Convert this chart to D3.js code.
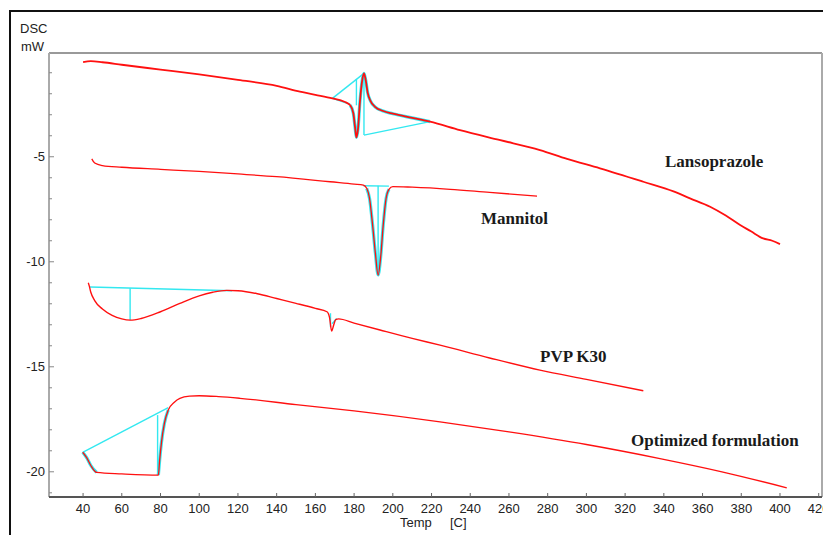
<!DOCTYPE html>
<html>
<head>
<meta charset="utf-8">
<script src="https://cdn.jsdelivr.net/npm/d3@7"></script>
<style>
  body { margin: 0; background: #fff; }
  svg { display: block; }
</style>
</head>
<body>
<svg id="chart"></svg>
<script>
// Canvas size
var W = 823,
    H = 535;

// DSC curves, [temperature C, heat flow mW]
var lansoprazole = [
    [40, -0.50], [44, -0.45], [50, -0.50], [60, -0.62], [80, -0.85], [100, -1.08],
    [120, -1.34], [140, -1.62], [152, -1.90], [160, -2.05], [168.8, -2.22], [175, -2.38],
    [178, -2.55], [179.6, -2.93], [180.5, -3.6], [181.2, -4.08], [182, -3.7], [183, -2.4],
    [184.3, -1.3], [185.1, -1.03], [186, -1.35], [187, -1.95], [188.5, -2.35], [190.8, -2.62],
    [195, -2.82], [200, -2.95], [210, -3.15], [219.2, -3.33], [234.7, -3.73], [255, -4.2],
    [276, -4.68], [290, -5.1], [307, -5.55], [329.4, -6.19], [345, -6.65], [353.5, -6.98],
    [363.9, -7.38], [372, -7.8], [379.4, -8.25], [385, -8.55], [391.3, -8.89], [396, -9.0],
    [400, -9.16]
];

var mannitol = [
    [44.5, -5.1], [46, -5.3], [50, -5.42], [60, -5.5], [80, -5.6], [100, -5.7],
    [120, -5.82], [140, -5.95], [160, -6.12], [167.6, -6.19], [180, -6.3], [184.8, -6.35],
    [186.5, -6.5], [188, -7.0], [189.5, -8.2], [191, -9.6], [192.4, -10.63], [193.8, -9.7],
    [195, -8.3], [196.5, -7.0], [198, -6.55], [200, -6.42], [210, -6.45], [229.6, -6.55],
    [250, -6.7], [274.5, -6.87]
];

var pvpK30 = [
    [42.7, -11.0], [43.2, -11.15], [44, -11.45], [46, -11.85], [50, -12.25], [55, -12.55],
    [60, -12.72], [64.3, -12.78], [70, -12.7], [80, -12.38], [90, -11.98], [100, -11.62],
    [107, -11.45], [114.2, -11.36], [120, -11.38], [130, -11.52], [140, -11.75], [150, -11.98],
    [160, -12.22], [166, -12.38], [167.3, -12.65], [168.4, -13.3], [169.5, -13.0], [170.5, -12.75],
    [172, -12.72], [180, -12.92], [193.4, -13.25], [210, -13.65], [224.4, -13.97], [250, -14.58],
    [276, -15.16], [300, -15.6], [329.4, -16.14]
];

var optimized = [
    [39.8, -19.07], [42, -19.35], [44, -19.7], [47, -20.03], [60, -20.1], [78.9, -20.16],
    [79.5, -19.5], [80.5, -18.6], [82, -17.7], [84, -17.06], [87, -16.7], [90, -16.5],
    [95, -16.4], [100, -16.38], [110, -16.42], [121, -16.5], [150, -16.8], [180, -17.1],
    [224.4, -17.62], [260, -18.1], [300, -18.7], [338, -19.37], [370, -20.0], [403.5, -20.76]
];

// Cyan analysis lines (baselines / peak markers), each a list of [T, mW]
var cyanMarks = [
    [[168.8, -2.22], [185.1, -1.03]],
    [[168.8, -2.22], [178, -2.5]],
    [[181.2, -1.3], [181.2, -2.55]],
    [[185.1, -1.03], [185.1, -3.97]],
    [[185.1, -3.97], [219.2, -3.33]],
    [[184.8, -6.38], [198, -6.4]],
    [[192.4, -6.38], [192.4, -10.5]],
    [[43.6, -11.2], [117, -11.38]],
    [[64.3, -11.26], [64.3, -12.78]],
    [[167.8, -12.45], [167.8, -13.1]],
    [[168.6, -12.95], [171, -12.7]],
    [[39.8, -19.07], [84, -16.95]],
    [[78.5, -17.3], [78.5, -20.16]]
];

// Stretches of curve that carry a cyan under-line
var cyanSpans = [
    { data: lansoprazole, from: 178, to: 219.2 },
    { data: mannitol, from: 185, to: 199 },
    { data: optimized, from: 39.8, to: 47 },
    { data: optimized, from: 78.9, to: 86 }
];

var seriesLabels = [
    { text: "Lansoprazole", x: 665, y: 167 },
    { text: "Mannitol", x: 481, y: 224 },
    { text: "PVP K30", x: 540, y: 362 },
    { text: "Optimized formulation", x: 631, y: 446 }
];

var xTicks = d3.range(40, 421, 20);
var yMajor = [-5, -10, -15, -20];
var yMinor = d3.range(-21, 0, 1);

var svg = d3.select("#chart").attr("width", W).attr("height", H);

// plot box (avoid the name "top", it is window.top)
var pLeft = 49, pRight = 822, pTop = 53, pBottom = 497;

var x = d3.scaleLinear().domain([22.4, 421.7]).range([pLeft, pRight]);
var y = d3.scaleLinear().domain([-0.06, -21.2]).range([pTop, pBottom]);

// outer black frame
svg.append("line").attr("x1", 10).attr("x2", W).attr("y1", 11).attr("y2", 11)
    .attr("stroke", "#111").attr("stroke-width", 2);
svg.append("line").attr("x1", 10).attr("x2", 10).attr("y1", 10).attr("y2", H)
    .attr("stroke", "#111").attr("stroke-width", 2);

// plot frame
svg.append("line").attr("x1", pLeft).attr("x2", pRight).attr("y1", pTop).attr("y2", pTop)
    .attr("stroke", "#999").attr("stroke-width", 2);
svg.append("line").attr("x1", pRight).attr("x2", pRight).attr("y1", pTop).attr("y2", pBottom)
    .attr("stroke", "#aaa").attr("stroke-width", 2);
svg.append("line").attr("x1", pLeft).attr("x2", pLeft).attr("y1", pTop).attr("y2", pBottom)
    .attr("stroke", "#aaa").attr("stroke-width", 2);
svg.append("line").attr("x1", pLeft).attr("x2", pRight).attr("y1", pBottom).attr("y2", pBottom)
    .attr("stroke", "#555").attr("stroke-width", 2);

// y ticks
svg.selectAll(".ymin").data(yMinor).enter().append("line")
    .attr("x1", pLeft).attr("x2", function (d) { return yMajor.indexOf(d) > -1 ? pLeft + 5 : pLeft + 3; })
    .attr("y1", function (d) { return y(d); }).attr("y2", function (d) { return y(d); })
    .attr("stroke", "#888").attr("stroke-width", 1);

svg.selectAll(".ylab").data(yMajor).enter().append("text")
    .attr("x", 45).attr("y", function (d) { return y(d) + 4.5; })
    .attr("text-anchor", "end")
    .style("font", "13px 'Liberation Sans', Arial, sans-serif").style("fill", "#222")
    .text(function (d) { return d; });

// x ticks
svg.selectAll(".xt").data(xTicks).enter().append("line")
    .attr("x1", function (d) { return x(d); }).attr("x2", function (d) { return x(d); })
    .attr("y1", pBottom).attr("y2", pBottom - 4)
    .attr("stroke", "#666").attr("stroke-width", 1);

svg.selectAll(".xlab").data(xTicks).enter().append("text")
    .attr("x", function (d) { return x(d); }).attr("y", 513)
    .attr("text-anchor", "middle")
    .style("font", "13px 'Liberation Sans', Arial, sans-serif").style("fill", "#222")
    .text(function (d) { return d; });

// axis titles
var axisFont = "13px 'Liberation Sans', Arial, sans-serif";
svg.append("text").attr("x", 20).attr("y", 33).style("font", axisFont).style("fill", "#222").text("DSC");
svg.append("text").attr("x", 21).attr("y", 51).style("font", axisFont).style("fill", "#222").text("mW");
svg.append("text").attr("x", 400).attr("y", 527).style("font", axisFont).style("fill", "#222").text("Temp");
svg.append("text").attr("x", 450).attr("y", 527).style("font", axisFont).style("fill", "#222").text("[C]");

var line = d3.line()
    .x(function (d) { return x(d[0]); })
    .y(function (d) { return y(d[1]); })
    .curve(d3.curveMonotoneX);

var straight = d3.line()
    .x(function (d) { return x(d[0]); })
    .y(function (d) { return y(d[1]); });

// cyan under the curve where the analysis was done
cyanSpans.forEach(function (s) {
    var part = s.data.filter(function (d) { return d[0] >= s.from && d[0] <= s.to; });
    svg.append("path").attr("d", line(part))
        .attr("fill", "none").attr("stroke", "#33e8f0").attr("stroke-width", 3.2);
});

svg.selectAll(".cyan").data(cyanMarks).enter().append("path")
    .attr("d", straight)
    .attr("fill", "none").attr("stroke", "#33e8f0").attr("stroke-width", 1.4);

// red curves
[[lansoprazole, 1.8], [mannitol, 1.3], [pvpK30, 1.4], [optimized, 1.3]].forEach(function (c) {
    svg.append("path").attr("d", line(c[0]))
        .attr("fill", "none").attr("stroke", "#ff1010").attr("stroke-width", c[1])
        .attr("stroke-linejoin", "round");
});

// curve names
svg.selectAll(".slab").data(seriesLabels).enter().append("text")
    .attr("x", function (d) { return d.x; }).attr("y", function (d) { return d.y; })
    .style("font", "bold 17px 'Liberation Serif', 'Times New Roman', serif").style("fill", "#1a1a1a")
    .text(function (d) { return d.text; });
</script>
</body>
</html>
